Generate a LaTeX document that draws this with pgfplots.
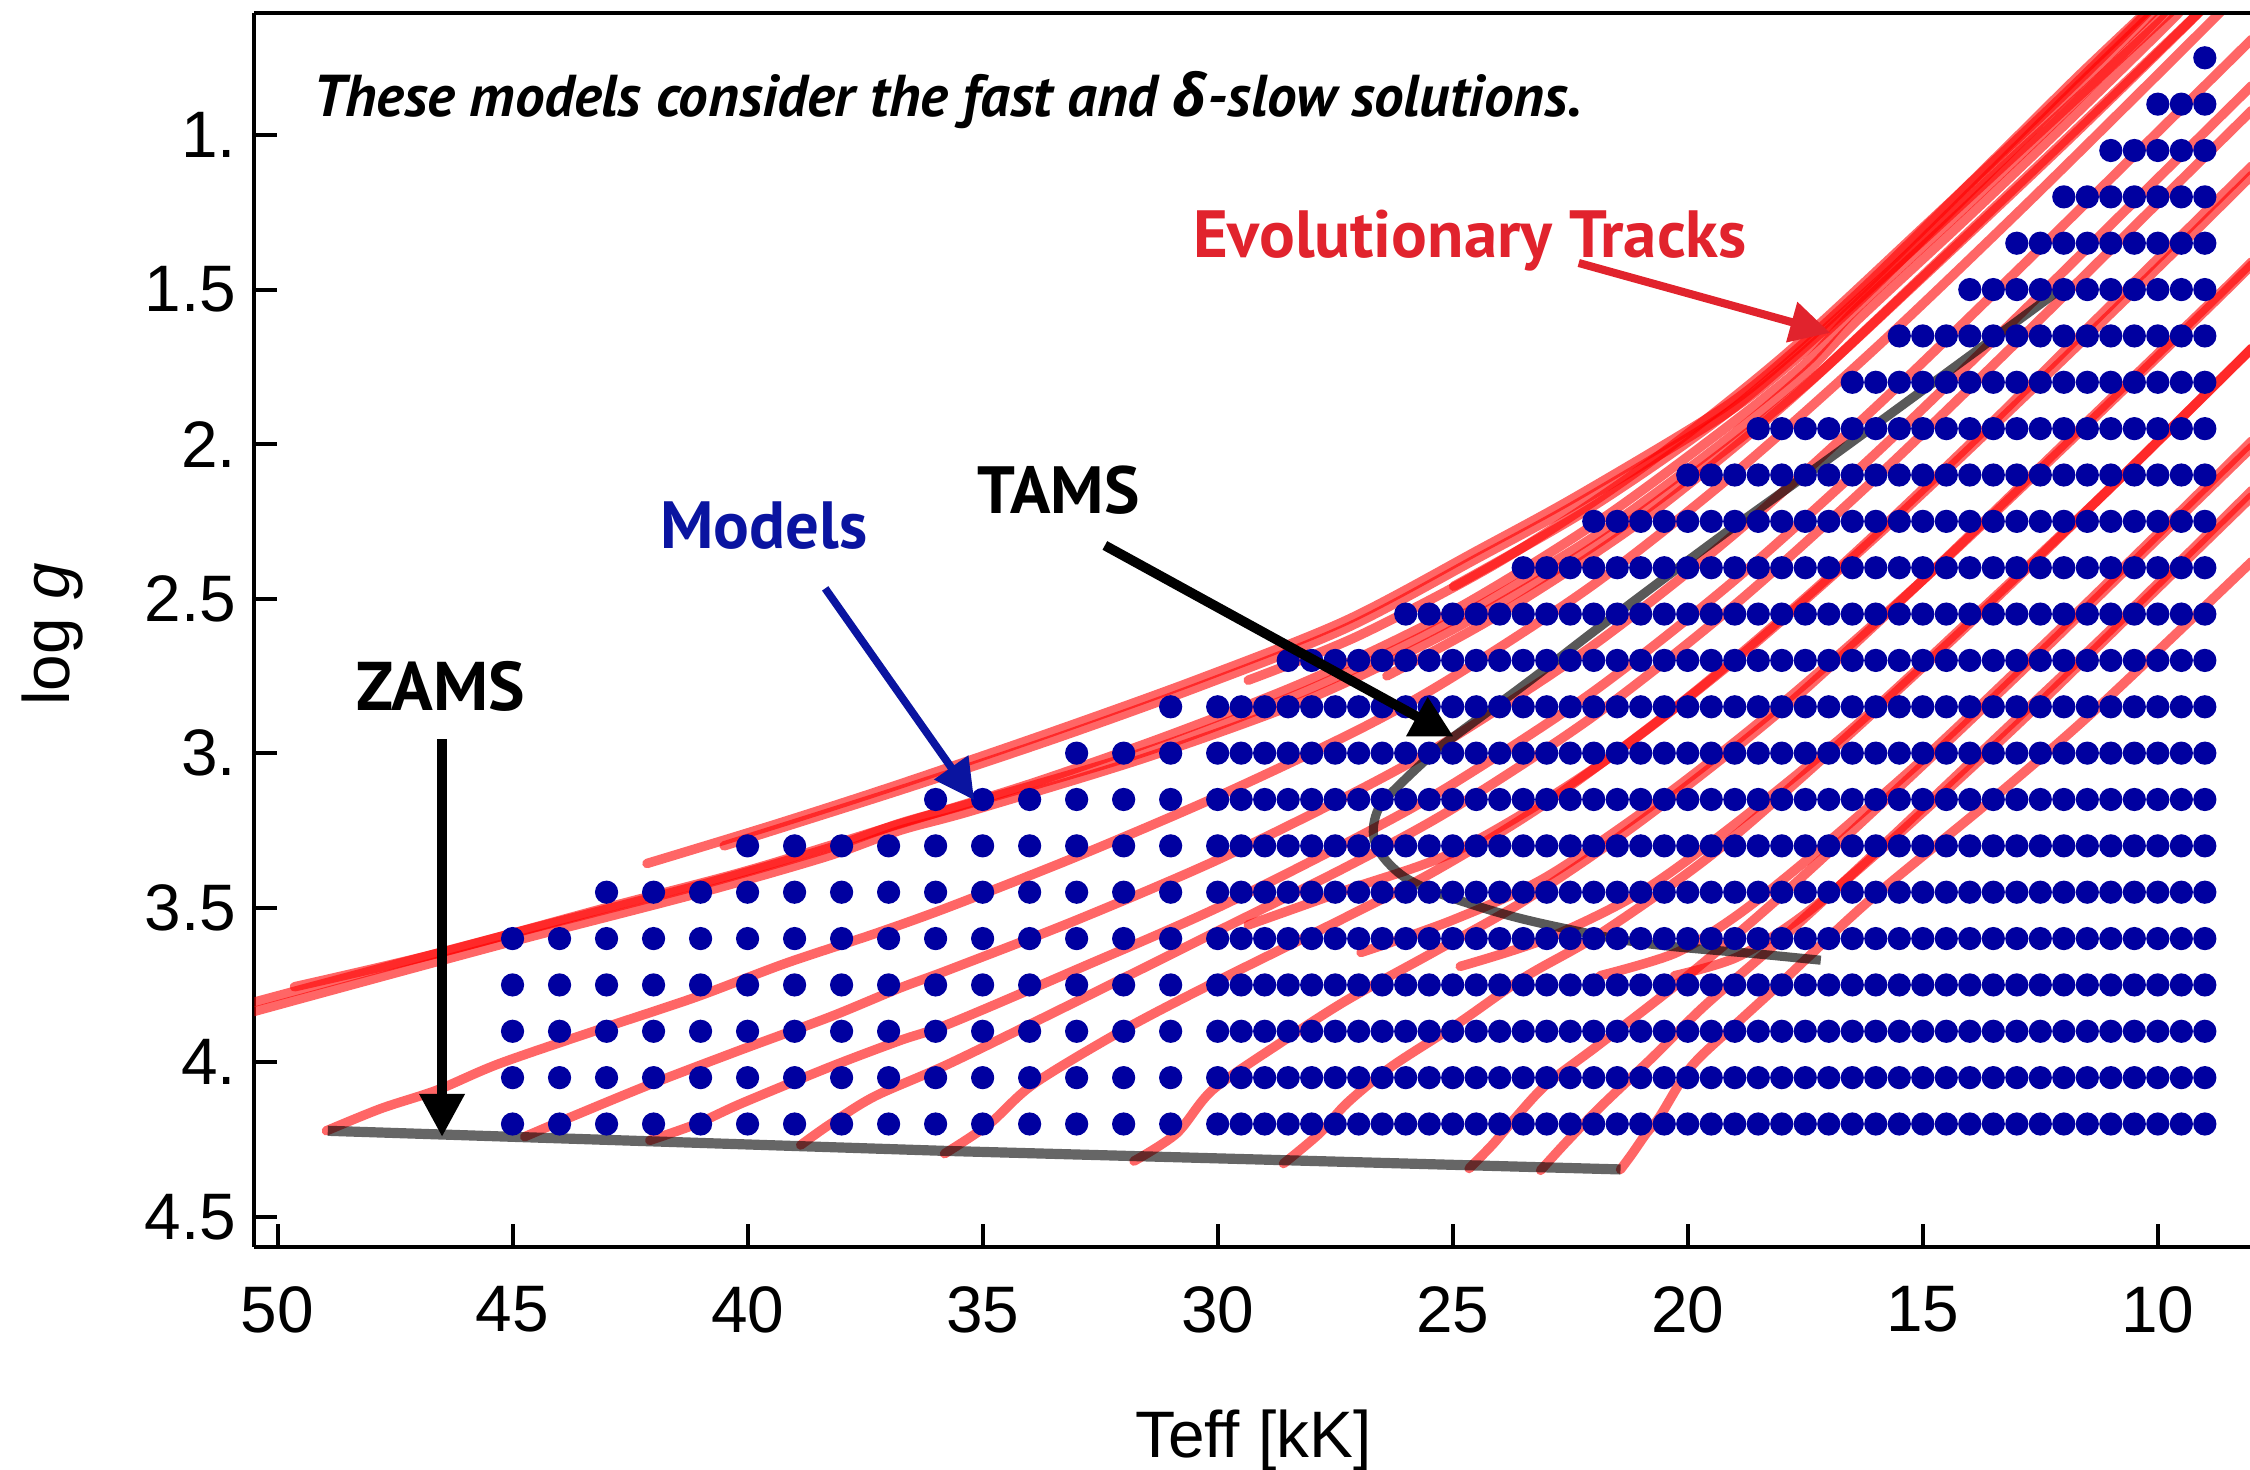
\documentclass[border=0pt]{standalone}
\usepackage{pgfplots}
\pgfplotsset{compat=1.18}
\usetikzlibrary{arrows.meta}
\usepackage{fontspec}
\setmainfont{Liberation Sans}
\newfontfamily\annfont{PT Sans}
\newfontfamily\grk{Open Sans}
\definecolor{dotblue}{RGB}{0,0,160}
\definecolor{txtred}{RGB}{225,35,45}
\definecolor{txtblue}{RGB}{10,20,160}
\pgfplotsset{trk/.style={draw=red, draw opacity=0.6, line width=2.7pt, no markers, smooth, tension=0.5, line join=round, line cap=round}}
\begin{document}
\begin{tikzpicture}
\begin{axis}[name=ax, at={(0,0)}, anchor=south west, scale only axis,
 width=19.955cm, height=12.334cm,
 x dir=reverse, y dir=reverse,
 xmin=8.04, xmax=50.49, ymin=0.606, ymax=4.597,
 axis x line*=bottom, axis y line*=left,
 axis line style={line width=1.14pt, -},
 xtick={10,15,...,50}, xticklabels={10,15,20,25,30,35,40,45,50},
 ytick={1,1.5,...,4.5}, yticklabels={1.,1.5,2.,2.5,3.,3.5,4.,4.5},
 tick align=inside, major tick length=2.3mm,
 tick style={line width=1.14pt, black},
 ticklabel style={font=\fontsize{18.7}{20}\selectfont},
 xticklabel style={yshift=-2.7mm},
 yticklabel style={xshift=-0.6mm},
 clip=true]
% evolutionary tracks (ZAMS family)
\addplot[trk] coordinates {(48.96,4.222) (47.8,4.15) (46.6,4.09) (45.27,4.004) (43.0,3.886) (41.09,3.789) (39.19,3.68) (37.29,3.584) (35.7,3.497) (33,3.335) (30,3.14) (27,2.924) (25,2.754) (22,2.454) (19,2.094) (16,1.689) (13,1.254) (10,0.804) (8,0.5)};
\addplot[trk] coordinates {(44.74,4.241) (43.75,4.177) (42.04,4.07) (40.14,3.96) (38.24,3.853) (36.76,3.76) (35.7,3.70) (33,3.54) (30,3.345) (27,3.12) (25,2.95) (22,2.65) (19,2.29) (16,1.88) (13,1.44) (10,0.99) (8,0.69)};
\addplot[trk] coordinates {(42.08,4.253) (41.09,4.20) (40.14,4.134) (38.24,4.015) (36.76,3.93) (35.7,3.875) (33,3.70) (30,3.50) (27,3.27) (25,3.10) (22,2.80) (19,2.44) (16,2.03) (13,1.59) (10,1.14) (8,0.84)};
\addplot[trk] coordinates {(38.87,4.268) (38.24,4.20) (37.29,4.11) (35.7,4.004) (32.96,3.80) (30.11,3.584) (27.26,3.368) (25,3.18) (22,2.88) (19,2.52) (16,2.11) (13,1.67) (10,1.22) (8,0.92)};
\addplot[trk] coordinates {(35.81,4.296) (34.86,4.20) (33.91,4.07) (32.01,3.896) (30.11,3.745) (27.26,3.53) (25.36,3.38) (23,3.16) (20,2.82) (17,2.43) (14,2.0) (11,1.55) (8,1.10)};
\addplot[trk] coordinates {(31.78,4.32) (30.87,4.23) (30.11,4.09) (28.69,3.94) (27.26,3.80) (25.36,3.64) (23.46,3.476) (21,3.22) (18,2.86) (15,2.44) (12,2.0) (9,1.56) (8,1.41)};
\addplot[trk] coordinates {(28.6,4.328) (27.83,4.23) (27.26,4.134) (26.31,4.015) (24.89,3.875) (23.46,3.724) (21.86,3.584) (19.5,3.33) (17,3.0) (14,2.58) (11,2.14) (8,1.69)};
\addplot[trk] coordinates {(24.65,4.344) (24.13,4.263) (23.65,4.177) (22.99,4.07) (21.86,3.94) (20,3.72) (18,3.46) (15.5,3.11) (13,2.75) (10.5,2.38) (8,2.01)};
\addplot[trk] coordinates {(23.13,4.35) (22.61,4.263) (21.86,4.145) (20.72,3.98) (19.66,3.82) (18,3.6) (16,3.32) (13.5,2.96) (11,2.60) (8,2.15)};
\addplot[trk] coordinates {(21.43,4.347) (21.2,4.30) (20.88,4.23) (20.6,4.177) (19.93,4.015) (19.0,3.88) (18.03,3.745) (16.13,3.476) (13.53,3.15) (11.33,2.86) (8,2.38)};
% second set of tracks
\addplot[trk] coordinates {(29.35,3.556) (27.26,3.443) (24.89,3.314) (22,3.05) (19,2.70) (16,2.30) (13,1.87) (10,1.43) (8,1.13)};
\addplot[trk] coordinates {(26.95,3.645) (25,3.54) (23,3.40) (20.5,3.14) (18,2.84) (15,2.44) (12,2.01) (9,1.57) (8,1.42)};
\addplot[trk] coordinates {(24.84,3.69) (23,3.60) (21,3.45) (19,3.23) (16.5,2.92) (14,2.57) (11,2.14) (8,1.69)};
\addplot[trk] coordinates {(21.86,3.72) (20.28,3.648) (19,3.53) (17.5,3.35) (15,3.02) (12.5,2.66) (10,2.29) (8,1.99)};
\addplot[trk] coordinates {(20.28,3.72) (18.95,3.66) (17.5,3.52) (15.5,3.26) (13,2.91) (10.5,2.54) (8,2.17)};
\addplot[trk] coordinates {(29.35,2.764) (27,2.62) (24,2.38) (21,2.08) (18,1.72) (15,1.30) (12,0.87) (10,0.57)};
\addplot[trk] coordinates {(26.4,2.75) (24,2.55) (21,2.25) (18,1.88) (15,1.46) (12,1.03) (9.5,0.66) (9,0.58)};
\addplot[trk] coordinates {(24.98,2.46) (22,2.20) (19,1.88) (16,1.48) (13,1.06) (10,0.64) (9.5,0.57)};
% upper bundle (massive tracks)
\addplot[trk] coordinates {(51,3.83) (50.6,3.81) (45.27,3.594) (41.09,3.43) (38.33,3.31) (36.76,3.227) (35.2,3.16) (31.44,2.99) (28,2.79) (25,2.57) (22,2.30) (19.3,2.0) (17.5,1.77) (16.4,1.60) (14,1.26) (12,0.97) (10.05,0.68) (9.4,0.58)};
\addplot[trk] coordinates {(51,3.86) (50.6,3.84) (45.27,3.62) (41.09,3.455) (38.33,3.335) (36.76,3.25) (35.2,3.185) (31.44,3.01) (28,2.82) (25,2.60) (22,2.33) (19.3,2.03) (17.5,1.81) (16,1.60) (14,1.31) (12,1.02) (10,0.73) (9.1,0.6)};
\addplot[trk] coordinates {(49.64,3.756) (46.6,3.648) (43,3.50) (40,3.38) (37,3.24) (34,3.10) (31,2.94) (28,2.76) (25,2.54) (22,2.26) (19.3,1.96) (17.5,1.74) (16.4,1.56) (14,1.22) (12,0.93) (10.1,0.64) (9.8,0.59)};
\addplot[trk] coordinates {(42.14,3.357) (39.4,3.23) (36.76,3.10) (33.5,2.93) (30.4,2.76) (27.26,2.57) (24.42,2.34) (22.32,2.165) (19.27,1.886) (17.74,1.70) (16.23,1.49) (14.69,1.26) (13.16,1.03) (11.63,0.80) (10.1,0.58)};
\addplot[trk] coordinates {(40.5,3.30) (36.76,3.12) (33.5,2.955) (30.4,2.785) (27.26,2.595) (24.42,2.365) (22.32,2.19) (19.27,1.91) (17.74,1.73) (16.23,1.52) (14.69,1.29) (13.16,1.06) (11.63,0.83) (10,0.59)};
% model grid
\addplot[only marks, color=dotblue, mark=*, mark size=3.1pt, mark options={fill=dotblue, draw=none}] coordinates {
(9,0.75)
(10,0.9)(9.5,0.9)(9,0.9)
(11,1.05)(10.5,1.05)(10,1.05)(9.5,1.05)(9,1.05)
(12,1.2)(11.5,1.2)(11,1.2)(10.5,1.2)(10,1.2)(9.5,1.2)(9,1.2)
(13,1.35)(12.5,1.35)(12,1.35)(11.5,1.35)(11,1.35)(10.5,1.35)(10,1.35)(9.5,1.35)(9,1.35)
(14,1.5)(13.5,1.5)(13,1.5)(12.5,1.5)(12,1.5)(11.5,1.5)(11,1.5)(10.5,1.5)(10,1.5)(9.5,1.5)(9,1.5)
(15.5,1.65)(15,1.65)(14.5,1.65)(14,1.65)(13.5,1.65)(13,1.65)(12.5,1.65)(12,1.65)(11.5,1.65)(11,1.65)(10.5,1.65)(10,1.65)(9.5,1.65)(9,1.65)
(16.5,1.8)(16,1.8)(15.5,1.8)(15,1.8)(14.5,1.8)(14,1.8)(13.5,1.8)(13,1.8)(12.5,1.8)(12,1.8)(11.5,1.8)(11,1.8)(10.5,1.8)(10,1.8)(9.5,1.8)(9,1.8)
(18.5,1.95)(18,1.95)(17.5,1.95)(17,1.95)(16.5,1.95)(16,1.95)(15.5,1.95)(15,1.95)(14.5,1.95)(14,1.95)(13.5,1.95)(13,1.95)(12.5,1.95)(12,1.95)(11.5,1.95)(11,1.95)(10.5,1.95)(10,1.95)(9.5,1.95)(9,1.95)
(20,2.1)(19.5,2.1)(19,2.1)(18.5,2.1)(18,2.1)(17.5,2.1)(17,2.1)(16.5,2.1)(16,2.1)(15.5,2.1)(15,2.1)(14.5,2.1)(14,2.1)(13.5,2.1)(13,2.1)(12.5,2.1)(12,2.1)(11.5,2.1)(11,2.1)(10.5,2.1)(10,2.1)(9.5,2.1)(9,2.1)
(22,2.25)(21.5,2.25)(21,2.25)(20.5,2.25)(20,2.25)(19.5,2.25)(19,2.25)(18.5,2.25)(18,2.25)(17.5,2.25)(17,2.25)(16.5,2.25)(16,2.25)(15.5,2.25)(15,2.25)(14.5,2.25)(14,2.25)(13.5,2.25)(13,2.25)(12.5,2.25)(12,2.25)(11.5,2.25)(11,2.25)(10.5,2.25)(10,2.25)(9.5,2.25)(9,2.25)
(23.5,2.4)(23,2.4)(22.5,2.4)(22,2.4)(21.5,2.4)(21,2.4)(20.5,2.4)(20,2.4)(19.5,2.4)(19,2.4)(18.5,2.4)(18,2.4)(17.5,2.4)(17,2.4)(16.5,2.4)(16,2.4)(15.5,2.4)(15,2.4)(14.5,2.4)(14,2.4)(13.5,2.4)(13,2.4)(12.5,2.4)(12,2.4)(11.5,2.4)(11,2.4)(10.5,2.4)(10,2.4)(9.5,2.4)(9,2.4)
(26,2.55)(25.5,2.55)(25,2.55)(24.5,2.55)(24,2.55)(23.5,2.55)(23,2.55)(22.5,2.55)(22,2.55)(21.5,2.55)(21,2.55)(20.5,2.55)(20,2.55)(19.5,2.55)(19,2.55)(18.5,2.55)(18,2.55)(17.5,2.55)(17,2.55)(16.5,2.55)(16,2.55)(15.5,2.55)(15,2.55)(14.5,2.55)(14,2.55)(13.5,2.55)(13,2.55)(12.5,2.55)(12,2.55)(11.5,2.55)(11,2.55)(10.5,2.55)(10,2.55)(9.5,2.55)(9,2.55)
(28.5,2.7)(28,2.7)(27.5,2.7)(27,2.7)(26.5,2.7)(26,2.7)(25.5,2.7)(25,2.7)(24.5,2.7)(24,2.7)(23.5,2.7)(23,2.7)(22.5,2.7)(22,2.7)(21.5,2.7)(21,2.7)(20.5,2.7)(20,2.7)(19.5,2.7)(19,2.7)(18.5,2.7)(18,2.7)(17.5,2.7)(17,2.7)(16.5,2.7)(16,2.7)(15.5,2.7)(15,2.7)(14.5,2.7)(14,2.7)(13.5,2.7)(13,2.7)(12.5,2.7)(12,2.7)(11.5,2.7)(11,2.7)(10.5,2.7)(10,2.7)(9.5,2.7)(9,2.7)
(31,2.85)(30,2.85)(29.5,2.85)(29,2.85)(28.5,2.85)(28,2.85)(27.5,2.85)(27,2.85)(26.5,2.85)(26,2.85)(25.5,2.85)(25,2.85)(24.5,2.85)(24,2.85)(23.5,2.85)(23,2.85)(22.5,2.85)(22,2.85)(21.5,2.85)(21,2.85)(20.5,2.85)(20,2.85)(19.5,2.85)(19,2.85)(18.5,2.85)(18,2.85)(17.5,2.85)(17,2.85)(16.5,2.85)(16,2.85)(15.5,2.85)(15,2.85)(14.5,2.85)(14,2.85)(13.5,2.85)(13,2.85)(12.5,2.85)(12,2.85)(11.5,2.85)(11,2.85)(10.5,2.85)(10,2.85)(9.5,2.85)(9,2.85)
(33,3.0)(32,3.0)(31,3.0)(30,3.0)(29.5,3.0)(29,3.0)(28.5,3.0)(28,3.0)(27.5,3.0)(27,3.0)(26.5,3.0)(26,3.0)(25.5,3.0)(25,3.0)(24.5,3.0)(24,3.0)(23.5,3.0)(23,3.0)(22.5,3.0)(22,3.0)(21.5,3.0)(21,3.0)(20.5,3.0)(20,3.0)(19.5,3.0)(19,3.0)(18.5,3.0)(18,3.0)(17.5,3.0)(17,3.0)(16.5,3.0)(16,3.0)(15.5,3.0)(15,3.0)(14.5,3.0)(14,3.0)(13.5,3.0)(13,3.0)(12.5,3.0)(12,3.0)(11.5,3.0)(11,3.0)(10.5,3.0)(10,3.0)(9.5,3.0)(9,3.0)
(36,3.15)(35,3.15)(34,3.15)(33,3.15)(32,3.15)(31,3.15)(30,3.15)(29.5,3.15)(29,3.15)(28.5,3.15)(28,3.15)(27.5,3.15)(27,3.15)(26.5,3.15)(26,3.15)(25.5,3.15)(25,3.15)(24.5,3.15)(24,3.15)(23.5,3.15)(23,3.15)(22.5,3.15)(22,3.15)(21.5,3.15)(21,3.15)(20.5,3.15)(20,3.15)(19.5,3.15)(19,3.15)(18.5,3.15)(18,3.15)(17.5,3.15)(17,3.15)(16.5,3.15)(16,3.15)(15.5,3.15)(15,3.15)(14.5,3.15)(14,3.15)(13.5,3.15)(13,3.15)(12.5,3.15)(12,3.15)(11.5,3.15)(11,3.15)(10.5,3.15)(10,3.15)(9.5,3.15)(9,3.15)
(40,3.3)(39,3.3)(38,3.3)(37,3.3)(36,3.3)(35,3.3)(34,3.3)(33,3.3)(32,3.3)(31,3.3)(30,3.3)(29.5,3.3)(29,3.3)(28.5,3.3)(28,3.3)(27.5,3.3)(27,3.3)(26.5,3.3)(26,3.3)(25.5,3.3)(25,3.3)(24.5,3.3)(24,3.3)(23.5,3.3)(23,3.3)(22.5,3.3)(22,3.3)(21.5,3.3)(21,3.3)(20.5,3.3)(20,3.3)(19.5,3.3)(19,3.3)(18.5,3.3)(18,3.3)(17.5,3.3)(17,3.3)(16.5,3.3)(16,3.3)(15.5,3.3)(15,3.3)(14.5,3.3)(14,3.3)(13.5,3.3)(13,3.3)(12.5,3.3)(12,3.3)(11.5,3.3)(11,3.3)(10.5,3.3)(10,3.3)(9.5,3.3)(9,3.3)
(43,3.45)(42,3.45)(41,3.45)(40,3.45)(39,3.45)(38,3.45)(37,3.45)(36,3.45)(35,3.45)(34,3.45)(33,3.45)(32,3.45)(31,3.45)(30,3.45)(29.5,3.45)(29,3.45)(28.5,3.45)(28,3.45)(27.5,3.45)(27,3.45)(26.5,3.45)(26,3.45)(25.5,3.45)(25,3.45)(24.5,3.45)(24,3.45)(23.5,3.45)(23,3.45)(22.5,3.45)(22,3.45)(21.5,3.45)(21,3.45)(20.5,3.45)(20,3.45)(19.5,3.45)(19,3.45)(18.5,3.45)(18,3.45)(17.5,3.45)(17,3.45)(16.5,3.45)(16,3.45)(15.5,3.45)(15,3.45)(14.5,3.45)(14,3.45)(13.5,3.45)(13,3.45)(12.5,3.45)(12,3.45)(11.5,3.45)(11,3.45)(10.5,3.45)(10,3.45)(9.5,3.45)(9,3.45)
(45,3.6)(44,3.6)(43,3.6)(42,3.6)(41,3.6)(40,3.6)(39,3.6)(38,3.6)(37,3.6)(36,3.6)(35,3.6)(34,3.6)(33,3.6)(32,3.6)(31,3.6)(30,3.6)(29.5,3.6)(29,3.6)(28.5,3.6)(28,3.6)(27.5,3.6)(27,3.6)(26.5,3.6)(26,3.6)(25.5,3.6)(25,3.6)(24.5,3.6)(24,3.6)(23.5,3.6)(23,3.6)(22.5,3.6)(22,3.6)(21.5,3.6)(21,3.6)(20.5,3.6)(20,3.6)(19.5,3.6)(19,3.6)(18.5,3.6)(18,3.6)(17.5,3.6)(17,3.6)(16.5,3.6)(16,3.6)(15.5,3.6)(15,3.6)(14.5,3.6)(14,3.6)(13.5,3.6)(13,3.6)(12.5,3.6)(12,3.6)(11.5,3.6)(11,3.6)(10.5,3.6)(10,3.6)(9.5,3.6)(9,3.6)
(45,3.75)(44,3.75)(43,3.75)(42,3.75)(41,3.75)(40,3.75)(39,3.75)(38,3.75)(37,3.75)(36,3.75)(35,3.75)(34,3.75)(33,3.75)(32,3.75)(31,3.75)(30,3.75)(29.5,3.75)(29,3.75)(28.5,3.75)(28,3.75)(27.5,3.75)(27,3.75)(26.5,3.75)(26,3.75)(25.5,3.75)(25,3.75)(24.5,3.75)(24,3.75)(23.5,3.75)(23,3.75)(22.5,3.75)(22,3.75)(21.5,3.75)(21,3.75)(20.5,3.75)(20,3.75)(19.5,3.75)(19,3.75)(18.5,3.75)(18,3.75)(17.5,3.75)(17,3.75)(16.5,3.75)(16,3.75)(15.5,3.75)(15,3.75)(14.5,3.75)(14,3.75)(13.5,3.75)(13,3.75)(12.5,3.75)(12,3.75)(11.5,3.75)(11,3.75)(10.5,3.75)(10,3.75)(9.5,3.75)(9,3.75)
(45,3.9)(44,3.9)(43,3.9)(42,3.9)(41,3.9)(40,3.9)(39,3.9)(38,3.9)(37,3.9)(36,3.9)(35,3.9)(34,3.9)(33,3.9)(32,3.9)(31,3.9)(30,3.9)(29.5,3.9)(29,3.9)(28.5,3.9)(28,3.9)(27.5,3.9)(27,3.9)(26.5,3.9)(26,3.9)(25.5,3.9)(25,3.9)(24.5,3.9)(24,3.9)(23.5,3.9)(23,3.9)(22.5,3.9)(22,3.9)(21.5,3.9)(21,3.9)(20.5,3.9)(20,3.9)(19.5,3.9)(19,3.9)(18.5,3.9)(18,3.9)(17.5,3.9)(17,3.9)(16.5,3.9)(16,3.9)(15.5,3.9)(15,3.9)(14.5,3.9)(14,3.9)(13.5,3.9)(13,3.9)(12.5,3.9)(12,3.9)(11.5,3.9)(11,3.9)(10.5,3.9)(10,3.9)(9.5,3.9)(9,3.9)
(45,4.05)(44,4.05)(43,4.05)(42,4.05)(41,4.05)(40,4.05)(39,4.05)(38,4.05)(37,4.05)(36,4.05)(35,4.05)(34,4.05)(33,4.05)(32,4.05)(31,4.05)(30,4.05)(29.5,4.05)(29,4.05)(28.5,4.05)(28,4.05)(27.5,4.05)(27,4.05)(26.5,4.05)(26,4.05)(25.5,4.05)(25,4.05)(24.5,4.05)(24,4.05)(23.5,4.05)(23,4.05)(22.5,4.05)(22,4.05)(21.5,4.05)(21,4.05)(20.5,4.05)(20,4.05)(19.5,4.05)(19,4.05)(18.5,4.05)(18,4.05)(17.5,4.05)(17,4.05)(16.5,4.05)(16,4.05)(15.5,4.05)(15,4.05)(14.5,4.05)(14,4.05)(13.5,4.05)(13,4.05)(12.5,4.05)(12,4.05)(11.5,4.05)(11,4.05)(10.5,4.05)(10,4.05)(9.5,4.05)(9,4.05)
(45,4.2)(44,4.2)(43,4.2)(42,4.2)(41,4.2)(40,4.2)(39,4.2)(38,4.2)(37,4.2)(36,4.2)(35,4.2)(34,4.2)(33,4.2)(32,4.2)(31,4.2)(30,4.2)(29.5,4.2)(29,4.2)(28.5,4.2)(28,4.2)(27.5,4.2)(27,4.2)(26.5,4.2)(26,4.2)(25.5,4.2)(25,4.2)(24.5,4.2)(24,4.2)(23.5,4.2)(23,4.2)(22.5,4.2)(22,4.2)(21.5,4.2)(21,4.2)(20.5,4.2)(20,4.2)(19.5,4.2)(19,4.2)(18.5,4.2)(18,4.2)(17.5,4.2)(17,4.2)(16.5,4.2)(16,4.2)(15.5,4.2)(15,4.2)(14.5,4.2)(14,4.2)(13.5,4.2)(13,4.2)(12.5,4.2)(12,4.2)(11.5,4.2)(11,4.2)(10.5,4.2)(10,4.2)(9.5,4.2)(9,4.2)
};
% ZAMS and TAMS
\addplot[draw=black, draw opacity=0.6, line width=2.9pt, no markers] coordinates {(48.93,4.222) (35.8,4.287) (21.43,4.347)};
\addplot[draw=black, draw opacity=0.65, line width=2.6pt, no markers, smooth, tension=0.6] coordinates {(17.17,3.67) (18.5,3.65) (20.88,3.616) (22.78,3.562) (24.2,3.508) (25.63,3.433) (26.29,3.368) (26.67,3.28) (26.58,3.18) (26.1,3.098) (25.34,2.99) (24.98,2.947) (23.4,2.77) (21.86,2.59) (19.4,2.31) (16.93,2.04) (14.5,1.77) (11.99,1.49)};
% annotation anchors
\coordinate (tTop) at (axis cs:49.26,0.9408);
\coordinate (tEvo) at (axis cs:30.54,1.395);
\coordinate (tMod) at (axis cs:41.87,2.338);
\coordinate (tTAMS) at (axis cs:35.12,2.226);
\coordinate (tZAMS) at (axis cs:48.34,2.863);
\coordinate (aR1) at (axis cs:22.32,1.414);
\coordinate (aR2) at (axis cs:16.97,1.64);
\coordinate (aB1) at (axis cs:38.35,2.467);
\coordinate (aB2) at (axis cs:35.18,3.152);
\coordinate (aT1) at (axis cs:32.40,2.328);
\coordinate (aT2) at (axis cs:24.98,2.947);
\coordinate (aZ1) at (axis cs:46.5,2.955);
\coordinate (aZ2) at (axis cs:46.5,4.242);
\end{axis}
\draw[line width=1.14pt] (ax.north west) -- (ax.north east);
\node[anchor=base west, inner sep=0pt, font=\annfont\bfseries\itshape\fontsize{16.8}{18}\selectfont] at (tTop) {These models consider the fast and {\grk δ}-slow solutions.};
\node[anchor=base west, inner sep=0pt, text=txtred, font=\annfont\bfseries\fontsize{19}{21}\selectfont] at (tEvo) {Evolutionary Tracks};
\node[anchor=base west, inner sep=0pt, text=txtblue, font=\annfont\bfseries\fontsize{19}{21}\selectfont] at (tMod) {Models};
\node[anchor=base west, inner sep=0pt, font=\annfont\bfseries\fontsize{19}{21}\selectfont] at (tTAMS) {TAMS};
\node[anchor=base west, inner sep=0pt, font=\annfont\bfseries\fontsize{19.6}{21}\selectfont] at (tZAMS) {ZAMS};
\draw[txtred, line width=2.3pt, -{Triangle[length=4mm,width=4mm]}] (aR1) -- (aR2);
\draw[txtblue, line width=2.2pt, -{Triangle[length=4mm,width=4mm]}] (aB1) -- (aB2);
\draw[black, line width=2.8pt, -{Triangle[length=4.2mm,width=4.2mm]}] (aT1) -- (aT2);
\draw[black, line width=2.8pt, -{Triangle[length=4.3mm,width=4.3mm]}] (aZ1) -- (aZ2);
\node[rotate=90, font=\fontsize{18.7}{20}\selectfont] at (-2.015cm,6.12cm) {log \textit{g}};
\node[anchor=base, font=\fontsize{18.7}{20}\selectfont] at (9.99cm,-2.11cm) {Teff [kK]};
\pgfresetboundingbox
\path[use as bounding box] (-2.545cm,-2.233cm) rectangle (19.955cm,12.467cm);
\end{tikzpicture}
\end{document}
